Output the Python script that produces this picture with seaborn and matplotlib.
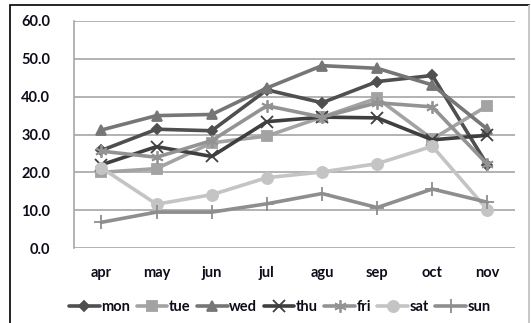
import pandas as pd
import matplotlib.pyplot as plt
import seaborn as sns
from matplotlib.patches import Rectangle

months = ['apr', 'may', 'jun', 'jul', 'agu', 'sep', 'oct', 'nov']

mon = [25.8, 31.4, 31.0, 41.8, 38.4, 44.0, 45.6, 21.9]
tue = [20.0, 21.0, 27.8, 29.6, 34.6, 39.6, 28.8, 37.6]
wed = [31.2, 35.0, 35.3, 42.3, 48.2, 47.5, 43.1, 31.4]
thu = [22.0, 26.8, 24.2, 33.4, 34.6, 34.4, 28.6, 29.8]
fri = [25.6, 24.0, 28.4, 37.6, 34.6, 38.4, 37.3, 22.1]
sat = [21.2, 11.6, 14.1, 18.6, 20.1, 22.3, 26.9, 10.1]
sun = [6.8, 9.5, 9.5, 11.7, 14.4, 10.7, 15.6, 12.1]

days = ['mon', 'tue', 'wed', 'thu', 'fri', 'sat', 'sun']
values = [mon, tue, wed, thu, fri, sat, sun]

colors = {'mon': '#4f4f4f', 'tue': '#a3a3a3', 'wed': '#767676', 'thu': '#3f3f3f',
          'fri': '#939393', 'sat': '#c4c4c4', 'sun': '#8e8e8e'}
markers = {'mon': 'D', 'tue': 's', 'wed': '^', 'thu': 'x',
           'fri': (6, 2, 0), 'sat': 'o', 'sun': '+'}
msizes = {'mon': 5, 'tue': 7, 'wed': 7, 'thu': 8, 'fri': 9, 'sat': 8, 'sun': 10}

rows = []
for d, vals in zip(days, values):
    for m, v in zip(months, vals):
        rows.append({'month': m, 'value': v, 'day': d})
df = pd.DataFrame(rows)

sns.set_style('white')
plt.rcParams['font.family'] = ['Lato', 'DejaVu Sans']

fig = plt.figure(figsize=(5.31, 3.23), dpi=100)
ax = fig.add_axes([0.139, 0.232, 0.831, 0.703])

for d in days:
    sub = df[df['day'] == d]
    sns.lineplot(data=sub, x='month', y='value', ax=ax, color=colors[d],
                 marker=markers[d], markersize=msizes[d], linewidth=2.6,
                 markeredgewidth=1.3, markeredgecolor=colors[d], label=d,
                 legend=False, zorder=3)

ax.set_xlim(-0.5, 7.5)
ax.set_ylim(0, 60)
ax.set_yticks(range(0, 61, 10))
ax.set_yticklabels([f'{v:.1f}' for v in range(0, 61, 10)])
ax.grid(axis='y', color='#a6a6a6', linewidth=1.2)
ax.grid(axis='x', visible=False)
for s in ['top', 'right', 'bottom']:
    ax.spines[s].set_visible(False)
ax.spines['left'].set_color('#a6a6a6')
ax.spines['left'].set_linewidth(1.2)
ax.set_xlabel('')
ax.set_ylabel('')
ax.tick_params(axis='y', pad=17, length=0, labelsize=10.5)
ax.tick_params(axis='x', pad=13, length=0, labelsize=10.5)
for t in ax.get_yticklabels() + ax.get_xticklabels():
    t.set_fontweight('bold')
    t.set_color('#0d0d1a')

handles, labels = ax.get_legend_handles_labels()
leg = fig.legend(handles, labels, loc='center', bbox_to_anchor=(0.527, 0.05),
                 ncol=7, frameon=False, handlelength=2.1, handletextpad=0.1,
                 columnspacing=0.45, prop={'weight': 'bold', 'size': 10.5})
for t in leg.get_texts():
    t.set_color('#0d0d1a')

fig.patches.append(Rectangle((0.019, -0.01), 0.978, 0.995, transform=fig.transFigure,
                             fill=False, edgecolor='black', linewidth=1.2))
fig.patches.append(Rectangle((0.997, -0.01), 0.0, 0.995, transform=fig.transFigure,
                             fill=False, edgecolor='#c8c8c8', linewidth=1.2))

fig.savefig('out.png', dpi=100)
